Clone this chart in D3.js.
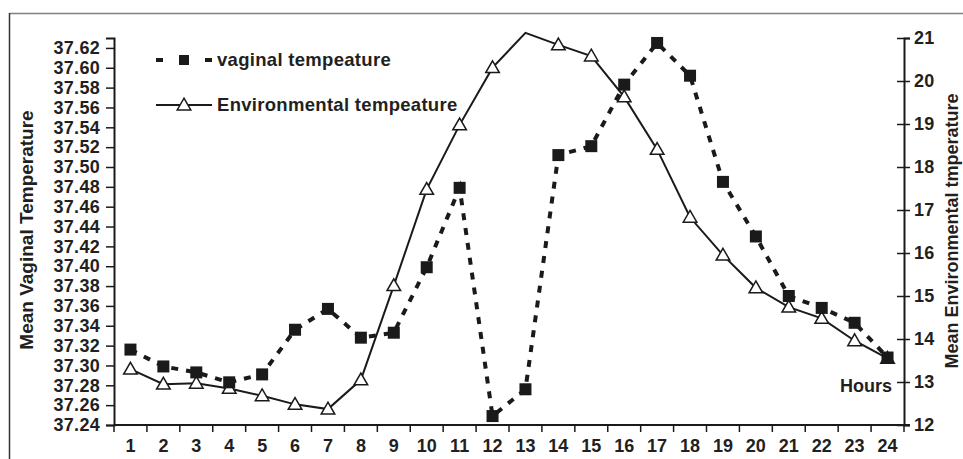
<!DOCTYPE html>
<html>
<head>
<meta charset="utf-8">
<script src="https://cdn.jsdelivr.net/npm/d3@7"></script>
<style>
  body { margin: 0; background: #fff; }
  svg text { font-family: "Liberation Sans", Arial, sans-serif; font-weight: bold; fill: #231f20; }
</style>
</head>
<body>
<svg id="chart" width="963" height="459"></svg>
<script>
// data
var hours = d3.range(1, 25);
var vaginal = [37.316, 37.299, 37.293, 37.283, 37.291, 37.336, 37.357, 37.328, 37.333, 37.399,
               37.479, 37.249, 37.276, 37.512, 37.521, 37.583, 37.625, 37.592, 37.485, 37.430,
               37.370, 37.358, 37.343, 37.308];
var environmental = [13.30, 12.95, 12.97, 12.85, 12.68, 12.48, 12.37, 13.05, 15.24, 17.48,
                     18.98, 20.31, 21.12, 20.84, 20.58, 19.63, 18.41, 16.83, 15.95, 15.19,
                     14.74, 14.48, 13.96, 13.55];
var leftTicks = d3.range(0, 20).map(function(i){ return 37.24 + i * 0.02; });
var rightTicks = d3.range(12, 22);

var svg = d3.select("#chart");
var ink = "#1a1a1a";

// frame
svg.append("line").attr("x1", 9.5).attr("x2", 963).attr("y1", 13.5).attr("y2", 13.5)
  .attr("stroke", "#808080").attr("stroke-width", 1.5);
svg.append("line").attr("x1", 9.5).attr("x2", 9.5).attr("y1", 13).attr("y2", 459)
  .attr("stroke", "#333").attr("stroke-width", 1.5);

var x = d3.scaleBand().domain(hours).range([114, 904]);
var yL = d3.scaleLinear().domain([37.24, 37.63]).range([425, 38]);
var yR = d3.scaleLinear().domain([12, 21]).range([425, 38]);

// x axis
var gx = svg.append("g").attr("transform", "translate(0,425)")
  .call(d3.axisBottom(x).tickSize(0).tickPadding(14));
gx.select(".domain").attr("stroke", ink).attr("stroke-width", 2).attr("d", "M114,0H910");
gx.selectAll("text").style("font-size", "18px").attr("dy", "0.71em");
svg.append("g").selectAll("line")
  .data(hours.concat([25]))
  .enter().append("line")
  .attr("x1", function(d){ return 114 + (d - 1) * x.bandwidth(); })
  .attr("x2", function(d){ return 114 + (d - 1) * x.bandwidth(); })
  .attr("y1", 425).attr("y2", 432)
  .attr("stroke", ink).attr("stroke-width", 1.5);

// left axis
var gl = svg.append("g").attr("transform", "translate(114,0)")
  .call(d3.axisLeft(yL).tickValues(leftTicks).tickFormat(d3.format(".2f")).tickSizeOuter(0).tickSize(8).tickPadding(6));
gl.select(".domain").attr("stroke", ink).attr("stroke-width", 2);
gl.selectAll(".tick line").attr("stroke", ink).attr("stroke-width", 1.5);
gl.selectAll("text").style("font-size", "18px").style("letter-spacing", "0.3px");

// right axis
var gr = svg.append("g").attr("transform", "translate(904,0)")
  .call(d3.axisRight(yR).tickValues(rightTicks).tickSizeOuter(0).tickSize(6).tickPadding(4));
gr.select(".domain").attr("stroke", ink).attr("stroke-width", 2);
gr.selectAll(".tick line").attr("stroke", ink).attr("stroke-width", 1.5).attr("x1", -7);
gr.selectAll("text").style("font-size", "18px").style("letter-spacing", "0.3px");

// axis titles
svg.append("text").attr("transform", "translate(33,230) rotate(-90)")
  .attr("text-anchor", "middle").style("font-size", "19px").text("Mean Vaginal Temperature");
svg.append("text").attr("transform", "translate(958,231) rotate(-90)")
  .attr("text-anchor", "middle").style("font-size", "18px").text("Mean Environmental tmperature");
svg.append("text").attr("x", 892).attr("y", 392).attr("text-anchor", "end")
  .style("font-size", "18px").text("Hours");

var cx = function(d, i){ return x(hours[i]) + x.bandwidth() / 2; };

// environmental line
svg.append("path").datum(environmental)
  .attr("fill", "none").attr("stroke", ink).attr("stroke-width", 2)
  .attr("d", d3.line().x(cx).y(function(d){ return yR(d); }));

// vaginal dashed line
svg.append("path").datum(vaginal)
  .attr("fill", "none").attr("stroke", ink).attr("stroke-width", 4)
  .attr("stroke-dasharray", "7,8")
  .attr("d", d3.line().x(cx).y(function(d){ return yL(d); }));

var tri = d3.symbol().type(d3.symbolTriangle).size(80);

// triangles (the one above the scale top is not drawn)
svg.append("g").selectAll("path")
  .data(environmental)
  .enter().filter(function(d){ return d <= 21; }).append("path")
  .attr("transform", function(d){ return "translate(" + cx(d, environmental.indexOf(d)) + "," + (yR(d) + 1) + ")"; })
  .attr("d", tri).attr("fill", "#fff").attr("stroke", ink).attr("stroke-width", 1.5);

// squares
svg.append("g").selectAll("rect")
  .data(vaginal)
  .enter().append("rect")
  .attr("x", function(d, i){ return cx(d, i) - 6; })
  .attr("y", function(d){ return yL(d) - 6; })
  .attr("width", 12).attr("height", 12)
  .attr("fill", ink);

// legend
var lg = svg.append("g");
lg.append("line").attr("x1", 156).attr("x2", 212).attr("y1", 60).attr("y2", 60)
  .attr("stroke", ink).attr("stroke-width", 4).attr("stroke-dasharray", "7,42");
lg.append("rect").attr("x", 179).attr("y", 55).attr("width", 10).attr("height", 10).attr("fill", ink);
lg.append("text").attr("x", 217).attr("y", 66).style("font-size", "18.5px").style("letter-spacing", "0.3px").text("vaginal tempeature");
lg.append("line").attr("x1", 156).attr("x2", 212).attr("y1", 105).attr("y2", 105)
  .attr("stroke", ink).attr("stroke-width", 2);
lg.append("path").attr("transform", "translate(184,106)").attr("d", tri)
  .attr("fill", "#fff").attr("stroke", ink).attr("stroke-width", 1.5);
lg.append("text").attr("x", 217).attr("y", 111).style("font-size", "18.5px").style("letter-spacing", "0.3px").text("Environmental tempeature");
</script>
</body>
</html>
